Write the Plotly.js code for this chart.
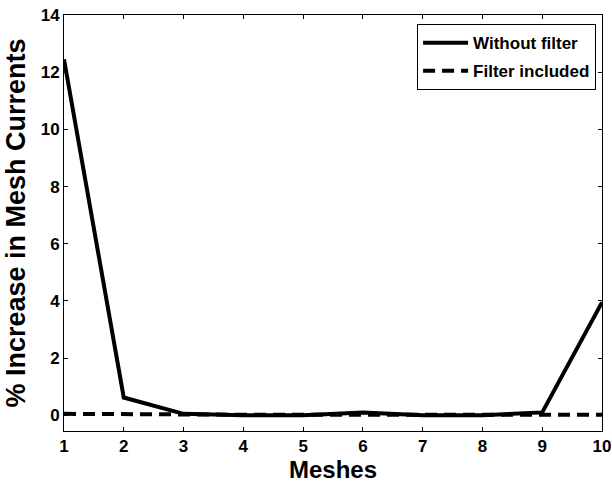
<!DOCTYPE html>
<html>
<head>
<meta charset="utf-8">
<script src="https://cdn.plot.ly/plotly-3.0.1.min.js"></script>
<style>html,body{margin:0;padding:0;background:#fff;}</style>
</head>
<body>
<div id="chart" style="width:612px;height:488px;"></div>
<script>
const meshes = [1, 2, 3, 4, 5, 6, 7, 8, 9, 10];
const withoutFilter = [12.45, 0.62, 0.05, 0.0, 0.0, 0.1, 0.0, 0.0, 0.1, 3.95];
const filterIncluded = [0.05, 0.03, 0.02, 0.02, 0.02, 0.02, 0.02, 0.02, 0.02, 0.02];
const yTicks = [0, 2, 4, 6, 8, 10, 12, 14];

const traces = [
  {x: meshes, y: withoutFilter, type: 'scatter', mode: 'lines', name: 'Without filter',
   legendgroup: 'a', line: {color: '#000', width: 4}},
  {x: meshes, y: filterIncluded, type: 'scatter', mode: 'lines', name: 'Filter included',
   legendgroup: 'b', line: {color: '#000', width: 4, dash: '12px,7px'}}
];

const fam = 'Liberation Sans, Arial, sans-serif';

const layout = {
  width: 612, height: 488,
  margin: {l: 64, r: 10, t: 15, b: 57},
  paper_bgcolor: '#fff', plot_bgcolor: '#fff',
  showlegend: true,
  font: {family: fam, size: 16, color: '#000', weight: 'bold'},
  xaxis: {
    range: [1, 10], tickvals: meshes, ticks: 'inside', ticklen: 4, tickcolor: '#000',
    showline: true, linecolor: '#000', linewidth: 1, mirror: 'ticks', showgrid: false, zeroline: false,
    tickfont: {family: fam, size: 17, color: '#000', weight: 'bold'},
    title: {text: 'Meshes', font: {family: fam, size: 24, color: '#000', weight: 'bold'}, standoff: 3}
  },
  yaxis: {
    range: [-0.55, 14], tickvals: yTicks, ticks: 'inside', ticklen: 4, tickcolor: '#000',
    showline: true, linecolor: '#000', linewidth: 1, mirror: 'ticks', showgrid: false, zeroline: false,
    tickfont: {family: fam, size: 17, color: '#000', weight: 'bold'},
    title: {text: '% Increase in Mesh Currents', font: {family: fam, size: 27, color: '#000', weight: 'bold'}, standoff: 7}
  },
  legend: {
    x: 0.989, y: 0.978, xanchor: 'right', yanchor: 'top',
    bgcolor: '#fff', bordercolor: '#000', borderwidth: 1,
    font: {family: fam, size: 17, color: '#000', weight: 'bold'},
    tracegroupgap: 3, itemwidth: 45
  }
};

Plotly.newPlot('chart', traces, layout, {displayModeBar: false, staticPlot: true});
</script>
</body>
</html>
